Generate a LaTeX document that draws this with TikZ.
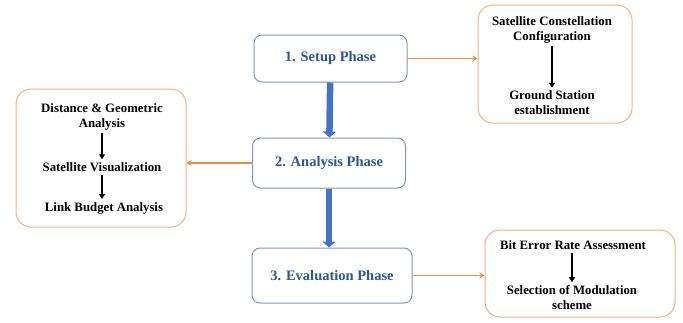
\documentclass[tikz,border=0pt]{standalone}
\usepackage{fontspec}
\setmainfont{Liberation Serif}[BoldFont={Liberation Serif Bold}]
\usetikzlibrary{arrows.meta}
\definecolor{phaseborder}{HTML}{8497B0}
\definecolor{phasetext}{HTML}{2F5597}
\definecolor{bluearrow}{HTML}{4472C4}
\definecolor{orangeline}{HTML}{F08A4B}
\definecolor{orangebox}{HTML}{F4B183}
\tikzset{
  phasebox/.style={draw=phaseborder, line width=1pt, rounded corners=8pt, minimum width=153pt, minimum height=47pt, font=\bfseries\fontsize{14.5}{16}\selectfont, text=phasetext},
  detailbox/.style={draw=orangebox, line width=1pt, rounded corners=15pt},
  itemtext/.style={font=\bfseries\fontsize{12.8}{15}\selectfont, align=center, inner sep=1pt},
  flowarrow/.style={draw=bluearrow, line width=6.5pt, -{Triangle[width=13pt,length=6pt]}},
  sidearrow/.style={draw=orangeline, line width=1.9pt, -{Stealth[width=6pt,length=5pt]}},
  steparrow/.style={draw=black, line width=1.4pt, -{Triangle[width=6pt,length=5pt]}, shorten <=2pt, shorten >=2pt}
}
\begin{document}
\begin{tikzpicture}[x=1pt,y=-1pt]
\useasboundingbox (0,0) rectangle (683,322);
% phase boxes
\node[phasebox] (setup) at (330.5,58.5) {1. Setup Phase};
\node[phasebox, minimum height=50pt] (analysis) at (329,163) {2. Analysis Phase};
\node[phasebox, minimum width=160pt, minimum height=55pt] (eval) at (332,275.5) {3. Evaluation Phase};
% detail boxes
\node[detailbox, minimum width=154pt, minimum height=118pt] (topbox) at (555,64) {};
\node[detailbox, minimum width=170pt, minimum height=138pt] (leftbox) at (101,158) {};
\node[detailbox, minimum width=190pt, minimum height=87pt] (botbox) at (580,273.5) {};
% top right texts
\node[itemtext] (sat) at (552,29.5) {Satellite Constellation\\Configuration};
\node[itemtext] (gs) at (552,103) {Ground Station\\establishment};
% left texts
\node[itemtext] (dist) at (102,116.5) {Distance \& Geometric\\Analysis};
\node[itemtext] (vis) at (102,167) {Satellite Visualization};
\node[itemtext] (link) at (104,208) {Link Budget Analysis};
% bottom right texts
\node[itemtext] (ber) at (573,245) {Bit Error Rate Assessment};
\node[itemtext] (mod) at (572,297.5) {Selection of Modulation\\scheme};
% inner arrows
\draw[steparrow] (sat) -- (gs);
\draw[steparrow] (dist) -- (vis);
\draw[steparrow] (vis.south) -- (vis.south |- link.north);
\draw[steparrow] (ber.south -| mod.north) -- (mod);
% flow arrows
\draw[flowarrow] (setup) -- (analysis);
\draw[flowarrow] (analysis) -- (analysis |- eval.north);
% side arrows
\draw[sidearrow] (setup) -- (setup -| topbox.west);
\draw[sidearrow] (analysis) -- (analysis -| leftbox.east);
\draw[sidearrow] (eval) -- (eval -| botbox.west);
\end{tikzpicture}
\end{document}
